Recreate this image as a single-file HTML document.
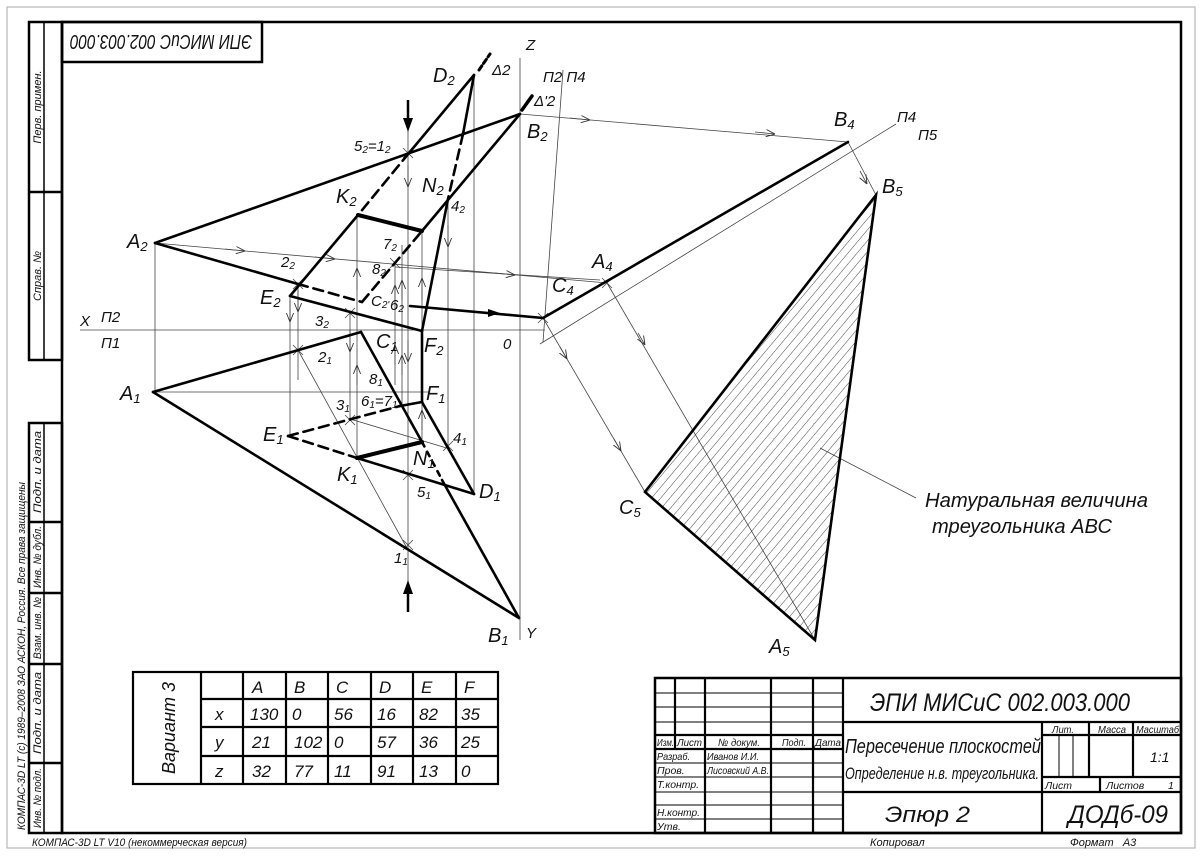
<!DOCTYPE html>
<html><head><meta charset="utf-8">
<style>
html,body{margin:0;padding:0;background:#fff;}
svg{display:block;}
text{font-family:"Liberation Sans","DejaVu Sans",sans-serif;font-style:italic;fill:#111;}
</style></head>
<body>
<svg width="1200" height="856" viewBox="0 0 1200 856" xmlns="http://www.w3.org/2000/svg">
<defs>
<marker id="ar" viewBox="0 0 10 10" refX="10" refY="5" markerWidth="9" markerHeight="9" orient="auto" markerUnits="userSpaceOnUse">
<path d="M0,1 L10,5 L0,9" fill="none" stroke="#333" stroke-width="1"/>
</marker>
<pattern id="hatch" width="7" height="7" patternUnits="userSpaceOnUse" patternTransform="rotate(40)">
<line x1="0" y1="0" x2="0" y2="7" stroke="#333" stroke-width="0.9"/>
</pattern>
</defs>

<rect x="7" y="7" width="1188" height="841" fill="none" stroke="#aaa" stroke-width="1"/>
<rect x="62" y="22" width="1119" height="811" fill="none" stroke="#000" stroke-width="2.5"/>

<rect x="62" y="22" width="200" height="40" fill="none" stroke="#000" stroke-width="2.5"/>
<text x="72" y="49" font-size="20" textLength="182" lengthAdjust="spacingAndGlyphs" transform="rotate(180 162 42)">ЭПИ МИСиС 002.003.000</text>

<g fill="none" stroke="#000" stroke-width="2.5">
<rect x="29" y="22" width="33" height="338"/>
<line x1="29" y1="192" x2="62" y2="192"/>
<rect x="29" y="423" width="33" height="410"/>
<line x1="29" y1="522" x2="62" y2="522"/>
<line x1="29" y1="593" x2="62" y2="593"/>
<line x1="29" y1="664" x2="62" y2="664"/>
<line x1="29" y1="763" x2="62" y2="763"/>
</g>
<line x1="44" y1="22" x2="44" y2="360" stroke="#000" stroke-width="1.5"/>
<line x1="44" y1="423" x2="44" y2="833" stroke="#000" stroke-width="1.5"/>
<g font-size="11">
<text transform="translate(41 107) rotate(-90)" text-anchor="middle">Перв. примен.</text>
<text transform="translate(41 276) rotate(-90)" text-anchor="middle">Справ. №</text>
<text transform="translate(41 472) rotate(-90)" text-anchor="middle" textLength="82" lengthAdjust="spacingAndGlyphs">Подп. и дата</text>
<text transform="translate(41 557) rotate(-90)" text-anchor="middle" textLength="62" lengthAdjust="spacingAndGlyphs">Инв. № дубл.</text>
<text transform="translate(41 628) rotate(-90)" text-anchor="middle" textLength="62" lengthAdjust="spacingAndGlyphs">Взам. инв. №</text>
<text transform="translate(41 713) rotate(-90)" text-anchor="middle" textLength="82" lengthAdjust="spacingAndGlyphs">Подп. и дата</text>
<text transform="translate(41 798) rotate(-90)" text-anchor="middle" textLength="60" lengthAdjust="spacingAndGlyphs">Инв. № подл.</text>
<text transform="translate(25 830) rotate(-90)" textLength="348" lengthAdjust="spacingAndGlyphs">КОМПАС-3D LT (c) 1989–2008 ЗАО АСКОН, Россия. Все права защищены</text>
</g>
<text x="32" y="846" font-size="11" textLength="215" lengthAdjust="spacingAndGlyphs">КОМПАС-3D LT V10 (некоммерческая версия)</text>
<text x="870" y="846" font-size="11">Копировал</text>
<text x="1070" y="846" font-size="11">Формат &#160;&#160;А3</text>

<g stroke="#444" stroke-width="0.8" fill="none">
<line x1="80" y1="330" x2="545" y2="330"/>
<line x1="520" y1="58" x2="520" y2="640"/>
<line x1="563" y1="70" x2="543" y2="342"/>
<line x1="540" y1="344" x2="896" y2="124"/>
<line x1="155" y1="243" x2="155" y2="392"/>
<line x1="290" y1="296" x2="290" y2="436"/>
<line x1="298" y1="283" x2="298" y2="380"/>
<line x1="350" y1="313" x2="350" y2="420"/>
<line x1="357" y1="215" x2="357" y2="458"/>
<line x1="395" y1="263" x2="395" y2="385"/>
<line x1="402" y1="245" x2="402" y2="405"/>
<line x1="408" y1="130" x2="408" y2="585"/>
<line x1="422" y1="231" x2="422" y2="442"/>
<line x1="448" y1="199" x2="448" y2="447"/>
<line x1="474" y1="75" x2="474" y2="494"/>
<line x1="155" y1="392" x2="430" y2="392"/>
<line x1="395" y1="267" x2="600" y2="280"/>
<line x1="298" y1="350" x2="408" y2="550"/>
<line x1="350" y1="419" x2="450" y2="449"/>
<line x1="520" y1="114" x2="848" y2="142"/>
<line x1="155" y1="243" x2="607" y2="283"/>
<line x1="848" y1="142" x2="876" y2="195"/>
<line x1="607" y1="283" x2="815" y2="640"/>
<line x1="543" y1="318" x2="645" y2="492"/>
<line x1="820" y1="448" x2="916" y2="498"/>
</g>
<g stroke="#444" stroke-width="0.8" fill="none">
<line x1="570" y1="118" x2="590" y2="120" marker-end="url(#ar)"/>
<line x1="755" y1="132" x2="775" y2="134" marker-end="url(#ar)"/>
<line x1="225" y1="249" x2="245" y2="251" marker-end="url(#ar)"/>
<line x1="315" y1="257" x2="335" y2="259" marker-end="url(#ar)"/>
<line x1="495" y1="273" x2="515" y2="275" marker-end="url(#ar)"/>
<line x1="860" y1="171" x2="867" y2="184" marker-end="url(#ar)"/>
<line x1="638" y1="333" x2="645" y2="345" marker-end="url(#ar)"/>
<line x1="560" y1="347" x2="567" y2="359" marker-end="url(#ar)"/>
<line x1="614" y1="439" x2="621" y2="451" marker-end="url(#ar)"/>
<line x1="290" y1="300" x2="290" y2="322" marker-end="url(#ar)"/>
<line x1="298" y1="290" x2="298" y2="312" marker-end="url(#ar)"/>
<line x1="350" y1="330" x2="350" y2="352" marker-end="url(#ar)"/>
<line x1="357" y1="385" x2="357" y2="365" marker-end="url(#ar)"/>
<line x1="357" y1="290" x2="357" y2="268" marker-end="url(#ar)"/>
<line x1="395" y1="305" x2="395" y2="285" marker-end="url(#ar)"/>
<line x1="402" y1="300" x2="402" y2="280" marker-end="url(#ar)"/>
<line x1="402" y1="375" x2="402" y2="355" marker-end="url(#ar)"/>
<line x1="395" y1="365" x2="395" y2="345" marker-end="url(#ar)"/>
<line x1="408" y1="165" x2="408" y2="187" marker-end="url(#ar)"/>
<line x1="408" y1="340" x2="408" y2="362" marker-end="url(#ar)"/>
<line x1="422" y1="300" x2="422" y2="278" marker-end="url(#ar)"/>
<line x1="422" y1="430" x2="422" y2="410" marker-end="url(#ar)"/>
<line x1="448" y1="225" x2="448" y2="247" marker-end="url(#ar)"/>
</g>
<g stroke="#444" stroke-width="0.8">
<path d="M403,148 l10,10 M413,148 l-10,10"/>
<path d="M293,279 l10,10 M303,279 l-10,10"/>
<path d="M345,308 l10,10 M355,308 l-10,10"/>
<path d="M390,258 l10,10 M400,258 l-10,10"/>
<path d="M293,345 l10,10 M303,345 l-10,10"/>
<path d="M345,415 l10,10 M355,415 l-10,10"/>
<path d="M403,470 l10,10 M413,470 l-10,10"/>
<path d="M403,540 l10,10 M413,540 l-10,10"/>
<path d="M443,441 l10,10 M453,441 l-10,10"/>
<path d="M538,313 l10,10 M548,313 l-10,10"/>
<path d="M602,278 l10,10 M612,278 l-10,10"/>
</g>

<polygon points="876,195 645,492 815,640" fill="url(#hatch)"/>

<g stroke="#000" stroke-width="2.6" fill="none" stroke-linecap="round">
<line x1="155" y1="243" x2="520" y2="114"/>
<line x1="155" y1="243" x2="298" y2="284"/>
<line x1="298" y1="284" x2="362" y2="302" stroke-dasharray="10,6"/>
<line x1="362" y1="302" x2="422" y2="231" stroke-dasharray="10,6"/>
<line x1="422" y1="231" x2="520" y2="114"/>
<line x1="474" y1="75" x2="409" y2="153"/>
<line x1="409" y1="153" x2="358" y2="215" stroke-dasharray="10,6"/>
<line x1="358" y1="215" x2="290" y2="296"/>
<line x1="290" y1="296" x2="422" y2="331"/>
<line x1="474" y1="75" x2="463" y2="134"/>
<line x1="463" y1="134" x2="448" y2="199" stroke-dasharray="10,6"/>
<line x1="448" y1="199" x2="422" y2="331"/>
<line x1="358" y1="215" x2="422" y2="231" stroke-width="4"/>
<line x1="410" y1="306" x2="543" y2="318"/>
<line x1="543" y1="318" x2="848" y2="142"/>
<polygon points="876,195 645,492 815,640"/>
<line x1="153" y1="392" x2="361" y2="332"/>
<line x1="153" y1="392" x2="519" y2="618"/>
<line x1="361" y1="332" x2="422" y2="442"/>
<line x1="422" y1="442" x2="440" y2="476" stroke-dasharray="5,6"/>
<line x1="442" y1="480" x2="519" y2="618"/>
<line x1="422" y1="331" x2="422" y2="402"/>
<line x1="288" y1="436" x2="357" y2="458" stroke-dasharray="10,6"/>
<line x1="357" y1="458" x2="474" y2="494"/>
<line x1="422" y1="402" x2="474" y2="494"/>
<line x1="288" y1="436" x2="400" y2="406" stroke-dasharray="10,6"/>
<line x1="400" y1="406" x2="422" y2="402"/>
<line x1="357" y1="458" x2="422" y2="442" stroke-width="4"/>
<line x1="479" y1="70" x2="490" y2="54" stroke-dasharray="5,3" stroke-width="3"/>
<line x1="522" y1="110" x2="532" y2="96" stroke-width="3.5"/>
</g>
<path d="M488,309 l12,4 l-12,4 z" fill="#000"/>
<g stroke="#000" stroke-width="2.5"><line x1="408" y1="100" x2="408" y2="120"/><line x1="408" y1="592" x2="408" y2="612"/></g>
<path d="M403,118 L408,132 L413,118 Z M403,594 L408,580 L413,594 Z" fill="#000"/>

<g font-size="20">
<text x="127" y="248">A<tspan font-size="13" dy="3">2</tspan></text>
<text x="120" y="400">A<tspan font-size="13" dy="3">1</tspan></text>
<text x="433" y="82">D<tspan font-size="13" dy="3">2</tspan></text>
<text x="527" y="138">B<tspan font-size="13" dy="3">2</tspan></text>
<text x="336" y="203">K<tspan font-size="13" dy="3">2</tspan></text>
<text x="422" y="192">N<tspan font-size="13" dy="3">2</tspan></text>
<text x="260" y="304">E<tspan font-size="13" dy="3">2</tspan></text>
<text x="376" y="348">C<tspan font-size="13" dy="3">1</tspan></text>
<text x="424" y="352">F<tspan font-size="13" dy="3">2</tspan></text>
<text x="426" y="400">F<tspan font-size="13" dy="3">1</tspan></text>
<text x="263" y="441">E<tspan font-size="13" dy="3">1</tspan></text>
<text x="337" y="481">K<tspan font-size="13" dy="3">1</tspan></text>
<text x="413" y="465">N<tspan font-size="13" dy="3">1</tspan></text>
<text x="479" y="498">D<tspan font-size="13" dy="3">1</tspan></text>
<text x="488" y="642">B<tspan font-size="13" dy="3">1</tspan></text>
<text x="834" y="126">B<tspan font-size="13" dy="3">4</tspan></text>
<text x="882" y="193">B<tspan font-size="13" dy="3">5</tspan></text>
<text x="592" y="268">A<tspan font-size="13" dy="3">4</tspan></text>
<text x="552" y="292">C<tspan font-size="13" dy="3">4</tspan></text>
<text x="619" y="514">C<tspan font-size="13" dy="3">5</tspan></text>
<text x="769" y="653">A<tspan font-size="13" dy="3">5</tspan></text>
</g>
<g font-size="15">
<text x="354" y="151">5<tspan font-size="10" dy="2">2</tspan><tspan dy="-2">=1</tspan><tspan font-size="10" dy="2">2</tspan></text>
<text x="451" y="211">4<tspan font-size="10" dy="2">2</tspan></text>
<text x="383" y="249">7<tspan font-size="10" dy="2">2</tspan></text>
<text x="372" y="274">8<tspan font-size="10" dy="2">2</tspan></text>
<text x="281" y="267">2<tspan font-size="10" dy="2">2</tspan></text>
<text x="315" y="326">3<tspan font-size="10" dy="2">2</tspan></text>
<text x="371" y="306">C<tspan font-size="10" dy="2">2'</tspan></text>
<text x="390" y="310">6<tspan font-size="10" dy="2">2</tspan></text>
<text x="318" y="362">2<tspan font-size="10" dy="2">1</tspan></text>
<text x="369" y="384">8<tspan font-size="10" dy="2">1</tspan></text>
<text x="336" y="410">3<tspan font-size="10" dy="2">1</tspan></text>
<text x="361" y="406">6<tspan font-size="10" dy="2">1</tspan><tspan dy="-2">=7</tspan><tspan font-size="10" dy="2">1</tspan></text>
<text x="453" y="443">4<tspan font-size="10" dy="2">1</tspan></text>
<text x="417" y="497">5<tspan font-size="10" dy="2">1</tspan></text>
<text x="394" y="563">1<tspan font-size="10" dy="2">1</tspan></text>
<text x="492" y="75">Δ2</text>
<text x="534" y="106">Δ'2</text>
<text x="526" y="50">Z</text>
<text x="526" y="638">Y</text>
<text x="80" y="326">X</text>
<text x="101" y="322">П2</text>
<text x="101" y="348">П1</text>
<text x="503" y="349">0</text>
<text x="543" y="82">П2 П4</text>
<text x="897" y="122">П4</text>
<text x="918" y="140">П5</text>
</g>
<text x="925" y="507" font-size="20" textLength="223" lengthAdjust="spacingAndGlyphs">Натуральная величина</text>
<text x="932" y="533" font-size="20" textLength="180" lengthAdjust="spacingAndGlyphs">треугольника АВС</text>

<g stroke="#000" stroke-width="2.2" fill="none">
<rect x="133" y="672" width="365" height="112"/>
<line x1="201" y1="672" x2="201" y2="784"/>
<line x1="243" y1="672" x2="243" y2="784"/>
<line x1="286" y1="672" x2="286" y2="784"/>
<line x1="328" y1="672" x2="328" y2="784"/>
<line x1="371" y1="672" x2="371" y2="784"/>
<line x1="413" y1="672" x2="413" y2="784"/>
<line x1="456" y1="672" x2="456" y2="784"/>
<line x1="201" y1="699" x2="498" y2="699"/>
<line x1="201" y1="727" x2="498" y2="727"/>
<line x1="201" y1="756" x2="498" y2="756"/>
</g>
<text transform="translate(175 728) rotate(-90)" font-size="18" text-anchor="middle">Вариант 3</text>
<g font-size="17">
<text x="252" y="693">A</text><text x="294" y="693">B</text><text x="336" y="693">C</text><text x="379" y="693">D</text><text x="421" y="693">E</text><text x="464" y="693">F</text>
<text x="215" y="720">x</text><text x="250" y="720">130</text><text x="292" y="720">0</text><text x="334" y="720">56</text><text x="377" y="720">16</text><text x="419" y="720">82</text><text x="461" y="720">35</text>
<text x="215" y="748">y</text><text x="252" y="748">21</text><text x="294" y="748">102</text><text x="334" y="748">0</text><text x="377" y="748">57</text><text x="419" y="748">36</text><text x="461" y="748">25</text>
<text x="215" y="777">z</text><text x="252" y="777">32</text><text x="294" y="777">77</text><text x="334" y="777">11</text><text x="377" y="777">91</text><text x="419" y="777">13</text><text x="461" y="777">0</text>
</g>

<g stroke="#000" fill="none">
<rect x="655" y="678" width="526" height="155" stroke-width="2.5"/>
<g stroke-width="2.2">
<line x1="675" y1="678" x2="675" y2="749"/>
<line x1="705" y1="678" x2="705" y2="833"/>
<line x1="771" y1="678" x2="771" y2="833"/>
<line x1="813" y1="678" x2="813" y2="833"/>
<line x1="843" y1="678" x2="843" y2="833"/>
<line x1="843" y1="722" x2="1181" y2="722"/>
<line x1="843" y1="792" x2="1181" y2="792"/>
<line x1="1042" y1="722" x2="1042" y2="833"/>
<line x1="1042" y1="735" x2="1181" y2="735"/>
<line x1="1042" y1="777" x2="1181" y2="777"/>
<line x1="1089" y1="722" x2="1089" y2="777"/>
<line x1="1133" y1="722" x2="1133" y2="777"/>
<line x1="1100" y1="777" x2="1100" y2="792"/>
<line x1="655" y1="735" x2="843" y2="735"/>
<line x1="655" y1="749" x2="843" y2="749"/>
</g>
<g stroke-width="1">
<line x1="1059" y1="735" x2="1059" y2="777"/>
<line x1="1073" y1="735" x2="1073" y2="777"/>
<line x1="655" y1="693" x2="843" y2="693"/>
<line x1="655" y1="707" x2="843" y2="707"/>
<line x1="655" y1="722" x2="843" y2="722"/>
<line x1="655" y1="763" x2="843" y2="763"/>
<line x1="655" y1="777" x2="843" y2="777"/>
<line x1="655" y1="792" x2="843" y2="792"/>
<line x1="655" y1="805" x2="843" y2="805"/>
<line x1="655" y1="819" x2="843" y2="819"/>
</g>
</g>
<g font-size="10.5">
<text x="657" y="746" textLength="17" lengthAdjust="spacingAndGlyphs">Изм.</text><text x="677" y="746" textLength="25" lengthAdjust="spacingAndGlyphs">Лист</text><text x="718" y="746" textLength="42" lengthAdjust="spacingAndGlyphs">№ докум.</text><text x="782" y="746" textLength="24" lengthAdjust="spacingAndGlyphs">Подп.</text><text x="815" y="746" textLength="26" lengthAdjust="spacingAndGlyphs">Дата</text>
<text x="657" y="760" textLength="33" lengthAdjust="spacingAndGlyphs">Разраб.</text><text x="707" y="760" textLength="52" lengthAdjust="spacingAndGlyphs">Иванов И.И.</text>
<text x="657" y="774">Пров.</text><text x="707" y="774" textLength="62" lengthAdjust="spacingAndGlyphs">Лисовский А.В.</text>
<text x="657" y="788" textLength="42" lengthAdjust="spacingAndGlyphs">Т.контр.</text>
<text x="657" y="816" textLength="43" lengthAdjust="spacingAndGlyphs">Н.контр.</text>
<text x="657" y="830">Утв.</text>
<text x="1052" y="733" textLength="22" lengthAdjust="spacingAndGlyphs">Лит.</text><text x="1098" y="733" textLength="28" lengthAdjust="spacingAndGlyphs">Масса</text><text x="1136" y="733" textLength="43" lengthAdjust="spacingAndGlyphs">Масштаб</text>
<text x="1045" y="789">Лист</text><text x="1106" y="789">Листов</text><text x="1168" y="789">1</text>
</g>
<text x="1150" y="762" font-size="14">1:1</text>
<text x="870" y="711" font-size="25" textLength="260" lengthAdjust="spacingAndGlyphs">ЭПИ МИСиС 002.003.000</text>
<text x="845" y="753" font-size="20" textLength="196" lengthAdjust="spacingAndGlyphs">Пересечение плоскостей</text>
<text x="845" y="779" font-size="17" textLength="194" lengthAdjust="spacingAndGlyphs">Определение н.в. треугольника.</text>
<text x="885" y="822" font-size="22" textLength="85" lengthAdjust="spacingAndGlyphs">Эпюр 2</text>
<text x="1068" y="823" font-size="25" textLength="100" lengthAdjust="spacingAndGlyphs">ДОДб-09</text>
</svg>
</body></html>
